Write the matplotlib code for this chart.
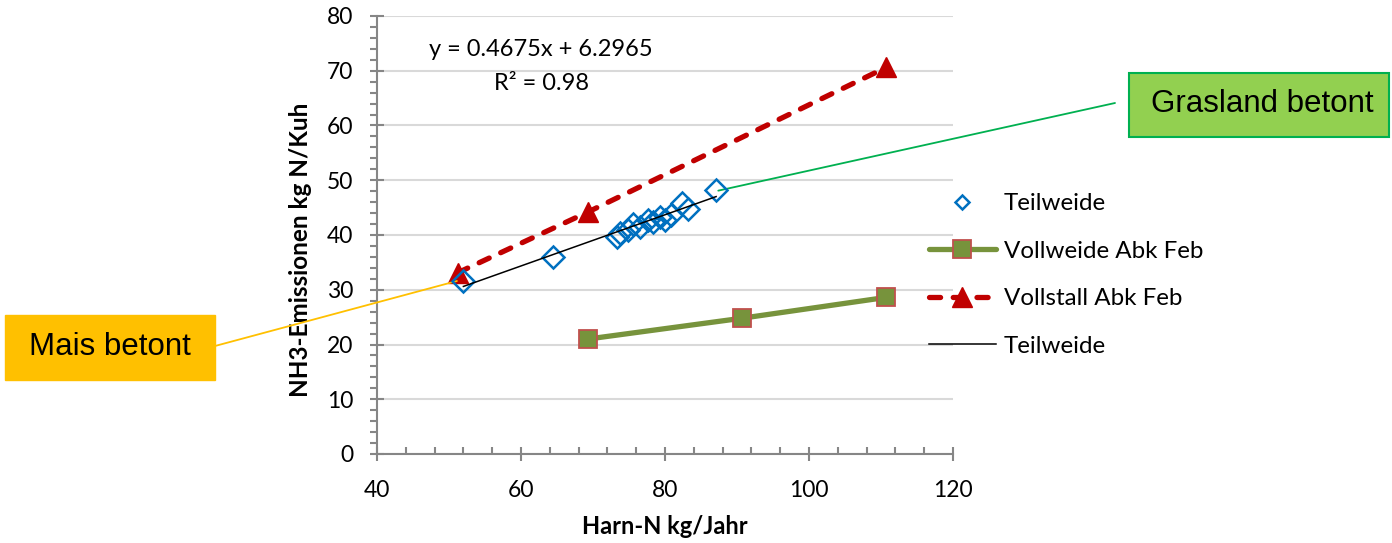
import matplotlib
matplotlib.use("Agg")
import matplotlib.pyplot as plt
from matplotlib.patches import Rectangle
from matplotlib.ticker import MultipleLocator
import numpy as np

plt.rcParams['font.family'] = ['Lato', 'DejaVu Sans']

# Teilweide farms (scatter)
teil_x = [52.0, 64.4, 73.3, 73.8, 74.9, 75.6, 76.5, 77.6, 78.3, 79.3, 80.0, 80.9, 82.3, 83.2, 87.1]
teil_y = [31.6, 35.9, 39.6, 40.3, 40.9, 42.0, 41.4, 42.7, 42.3, 43.2, 42.8, 43.6, 45.8, 44.8, 48.2]

# Vollweide / Vollstall scenarios
vw_x = [69.3, 90.7, 110.7]
vw_y = [21.0, 24.8, 28.6]
vs_x = [51.2, 69.3, 110.7]
vs_y = [33.1, 44.2, 70.6]

# Linear trend for Teilweide
slope, intercept = 0.4675, 6.2965
r2 = 0.98

fig = plt.figure(figsize=(13.92, 5.43), dpi=100)
ax = fig.add_axes([377/1392, 1-454/543, (953-377)/1392, (454-16)/543])

grid_c = '#D9D9D9'
spine_c = '#868686'

ax.set_xlim(40, 120)
ax.set_ylim(0, 80)
ax.xaxis.set_major_locator(MultipleLocator(20))
ax.xaxis.set_minor_locator(MultipleLocator(4))
ax.yaxis.set_major_locator(MultipleLocator(10))
ax.yaxis.set_minor_locator(MultipleLocator(2))
ax.yaxis.grid(True, which='major', color=grid_c, lw=1.5)
ax.set_axisbelow(True)
for s in ('top', 'right'):
    ax.spines[s].set_visible(False)
for s in ('left', 'bottom'):
    ax.spines[s].set_color(spine_c)
    ax.spines[s].set_linewidth(1.5)
ax.tick_params(axis='both', which='major', direction='inout', length=10, width=1.5,
               color=spine_c, labelsize=16.5)
ax.tick_params(axis='x', which='major', pad=14)
ax.tick_params(axis='y', which='major', pad=12)
ax.tick_params(axis='x', which='minor', direction='in', length=5, width=1.5, color=spine_c)
ax.tick_params(axis='y', which='minor', direction='out', length=5, width=1.5, color=spine_c)

h1, = ax.plot(teil_x, teil_y, ls='none', marker='D', ms=11, mfc='none',
              mec='#0070C0', mew=1.8, label='Teilweide', zorder=4)
h2, = ax.plot(vw_x, vw_y, color='#77933C', lw=3.8, marker='s', ms=13,
              mfc='#77933C', mec='#C0504D', mew=1.3, solid_capstyle='round',
              label='Vollweide Abk Feb', zorder=3)
h3, = ax.plot(vs_x, vs_y, color='#C00000', lw=3.8, ls=(0, (2.1, 2.4)),
              dash_capstyle='round', marker='^', ms=15, mfc='#C00000', mec='#C00000',
              label='Vollstall Abk Feb', zorder=3)
tx = np.array([min(teil_x), max(teil_x)])
h4, = ax.plot(tx, slope * tx + intercept, color='black', lw=1.1, label='Teilweide', zorder=5)

ax.set_xlabel('Harn-N kg/Jahr', fontsize=17, fontweight='bold')
ax.xaxis.set_label_coords(665/1392, 1-527/543, transform=fig.transFigure)
ax.set_ylabel('NH3-Emissionen kg N/Kuh', fontsize=17.5, fontweight='bold')
ax.yaxis.set_label_coords(300/1392, 1-250/543, transform=fig.transFigure)
ax.xaxis.label.set_va('center')
ax.yaxis.label.set_va('center')

leg = ax.legend(handles=[h1, h2, h3, h4], loc='center left',
                bbox_to_anchor=(907/1392, 1-275/543), bbox_transform=fig.transFigure,
                frameon=False, fontsize=17.4, handlelength=2.77, handletextpad=0.33,
                labelspacing=1.1, borderaxespad=0, borderpad=0.9)
leg.legend_handles[0].set_markersize(7)

# Equation of the trend line
fig.text(541/1392, 1-50/543, f'y = {slope}x + {intercept}', ha='center', va='center', fontsize=17)
fig.text(541/1392, 1-84/543, f'R² = {r2}', ha='center', va='center', fontsize=17)

# Callout boxes
fig.add_artist(Rectangle((5/1392, 1-380/543), 210/1392, 65/543, transform=fig.transFigure,
                         facecolor='#FFC000', edgecolor='#FFC000', lw=1))
fig.text(110/1392, 1-347/543, 'Mais betont', ha='center', va='center', fontsize=22.5,
         family='Liberation Sans')
fig.add_artist(Rectangle((1129/1392, 1-137/543), 260/1392, 64/543, transform=fig.transFigure,
                         facecolor='#92D050', edgecolor='#00B050', lw=1.5))
fig.text(1262/1392, 1-104/543, 'Grasland betont', ha='center', va='center', fontsize=22.5,
         family='Liberation Sans')

ax.annotate('', xy=(51.1, 31.6), xycoords='data', xytext=(215/1392, 1-346/543),
            textcoords='figure fraction',
            arrowprops=dict(arrowstyle='-', color='#FFC000', lw=1.3, shrinkA=0, shrinkB=0),
            annotation_clip=False)
ax.annotate('', xy=(87.4, 48.1), xycoords='data', xytext=(1115/1392, 1-103/543),
            textcoords='figure fraction',
            arrowprops=dict(arrowstyle='-', color='#00B050', lw=1.3, shrinkA=0, shrinkB=0),
            annotation_clip=False)

fig.savefig('out.png', dpi=100)
